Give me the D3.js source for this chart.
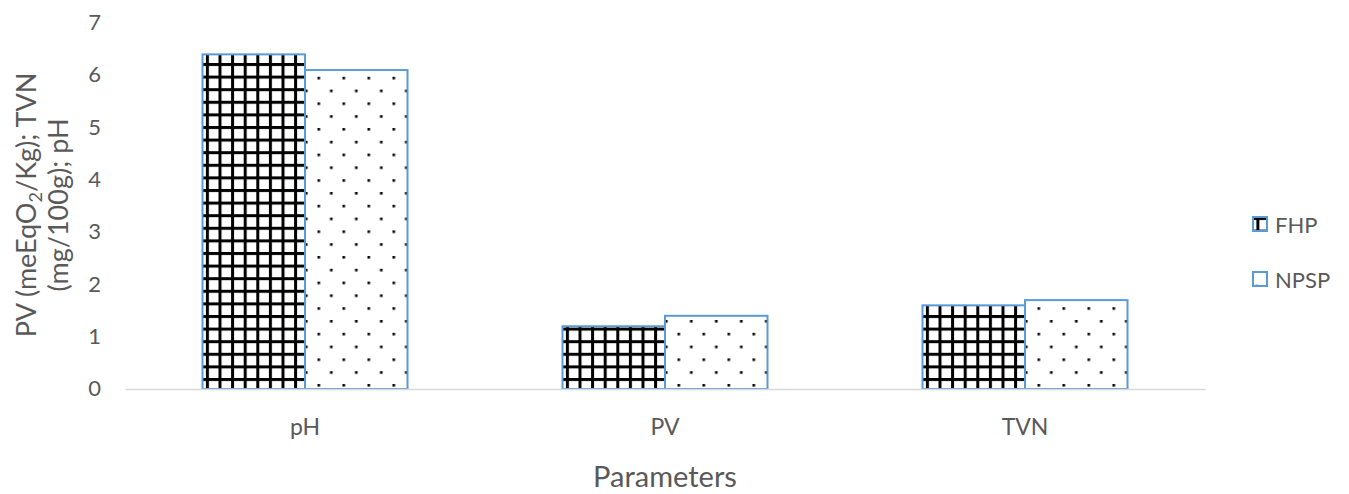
<!DOCTYPE html>
<html>
<head>
<meta charset="utf-8">
<script src="https://cdn.jsdelivr.net/npm/d3@7"></script>
<style>
  html, body { margin: 0; padding: 0; background: #fff; }
  text { font-family: Lato, "Open Sans", sans-serif; fill: #595959; }
</style>
</head>
<body>
<svg id="chart" width="1349" height="494"></svg>
<script>
// Quality parameters of the two products
const categories = ["pH", "PV", "TVN"];
const seriesNames = ["FHP", "NPSP"];
const fhpValues = [6.4, 1.2, 1.6];
const npspValues = [6.1, 1.4, 1.7];
const yTicks = [0, 1, 2, 3, 4, 5, 6, 7];

const svg = d3.select("#chart");
const plotLeft = 125, plotRight = 1205, plotTop = 23, plotBottom = 389;
const font = "Lato, 'Open Sans', sans-serif";

// Hatch patterns: heavy grid for FHP, sparse dots for NPSP
const defs = svg.append("defs");
const grid = defs.append("pattern")
  .attr("id", "pat-grid").attr("patternUnits", "userSpaceOnUse")
  .attr("width", 12.6).attr("height", 12.6).attr("x", 205).attr("y", 0);
grid.append("rect").attr("width", 12.6).attr("height", 12.6).attr("fill", "#fff");
grid.append("rect").attr("x", 0).attr("y", 0).attr("width", 3).attr("height", 12.6).attr("fill", "#000");
grid.append("rect").attr("x", 0).attr("y", 0).attr("width", 12.6).attr("height", 3).attr("fill", "#000");

const dots = defs.append("pattern")
  .attr("id", "pat-dots").attr("patternUnits", "userSpaceOnUse")
  .attr("width", 25).attr("height", 25.6).attr("x", 315).attr("y", 0);
dots.append("rect").attr("width", 25).attr("height", 25.6).attr("fill", "#fff");
dots.append("rect").attr("x", 0).attr("y", 0).attr("width", 2.6).attr("height", 2.6).attr("fill", "#000");
dots.append("rect").attr("x", 12.5).attr("y", 12.8).attr("width", 2.6).attr("height", 2.6).attr("fill", "#000");

const x0 = d3.scaleBand().domain(categories).range([plotLeft, plotRight]).paddingInner(0).paddingOuter(0);
const groupWidth = 205;
const x1 = d3.scaleBand().domain(seriesNames).range([0, groupWidth]);
const y = d3.scaleLinear().domain([0, 7]).range([plotBottom, plotTop]);

const fills = { FHP: "url(#pat-grid)", NPSP: "url(#pat-dots)" };
const data = categories.map((c, i) => ({ cat: c, values: [
  { s: "FHP", v: fhpValues[i] }, { s: "NPSP", v: npspValues[i] } ] }));

// Y tick labels (no axis line)
const yAxis = d3.axisLeft(y).tickValues(yTicks).tickFormat(d3.format("d")).tickSize(0).tickPadding(0);
const gy = svg.append("g").attr("transform", `translate(101,0)`).call(yAxis);
gy.select(".domain").remove();
gy.selectAll("text").attr("font-size", 22).style("fill", "#595959")
  .style("font-family", font).attr("dy", "0.3em");

// Bars
const groups = svg.append("g").selectAll("g").data(data).join("g")
  .attr("transform", d => `translate(${x0(d.cat) + (x0.bandwidth() - groupWidth) / 2},0)`);
groups.selectAll("rect").data(d => d.values).join("rect")
  .attr("x", d => x1(d.s))
  .attr("y", d => y(d.v))
  .attr("width", x1.bandwidth())
  .attr("height", d => y(0) - y(d.v))
  .attr("fill", d => fills[d.s])
  .attr("stroke", "#5B9BD5")
  .attr("stroke-width", 2);

// X axis
const xAxis = d3.axisBottom(x0).tickSize(0).tickPadding(0);
const gx = svg.append("g").attr("transform", `translate(0,${plotBottom})`).call(xAxis);
gx.select(".domain").attr("stroke", "#D9D9D9").attr("stroke-width", 1.5);
gx.selectAll("text").attr("font-size", 23).style("fill", "#595959")
  .style("font-family", font).attr("dy", "0").attr("y", 46);

// Axis titles
svg.append("text").attr("x", 665).attr("y", 487).attr("text-anchor", "middle")
  .attr("font-size", 29).text("Parameters");

const yt = svg.append("text").attr("transform", "translate(36,205) rotate(-90)")
  .attr("text-anchor", "middle").attr("font-size", 27);
yt.append("tspan").text("PV (meEqO");
yt.append("tspan").attr("font-size", 18).attr("dy", 6).text("2");
yt.append("tspan").attr("dy", -6).text("/Kg); TVN");
svg.append("text").attr("transform", "translate(68,205) rotate(-90)")
  .attr("text-anchor", "middle").attr("font-size", 27).text("(mg/100g); pH");

// Legend
const legend = svg.append("g").selectAll("g").data(seriesNames).join("g")
  .attr("transform", (d, i) => `translate(1253,${217 + i * 55})`);
legend.append("rect").attr("width", 14).attr("height", 14)
  .attr("fill", d => fills[d]).attr("stroke", "#5B9BD5").attr("stroke-width", 2);
legend.append("text").attr("x", 22).attr("y", 16)
  .attr("font-size", 22).text(d => d);
</script>
</body>
</html>
